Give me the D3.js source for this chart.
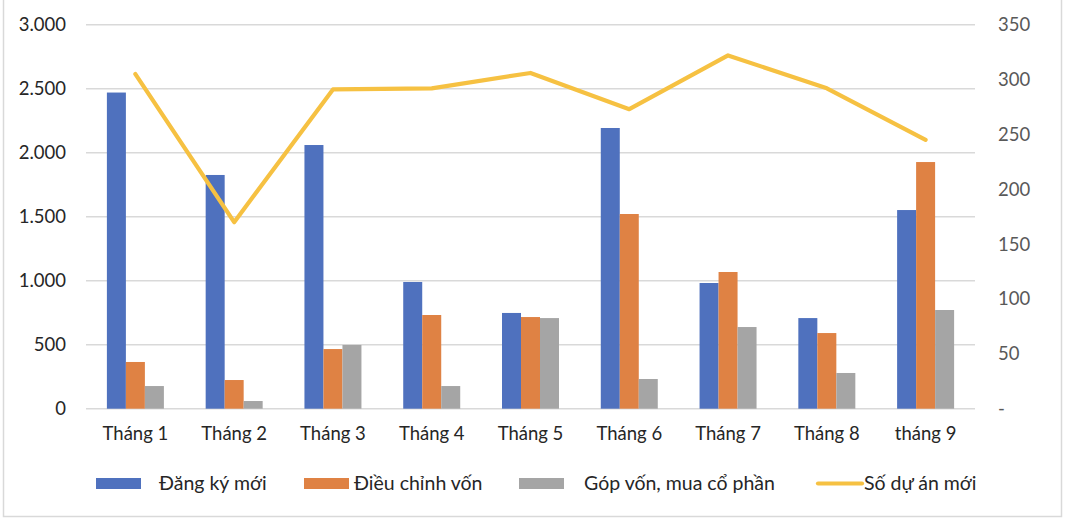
<!DOCTYPE html>
<html>
<head>
<meta charset="utf-8">
<script src="https://cdn.jsdelivr.net/npm/d3@7"></script>
<style>
  html, body { margin: 0; padding: 0; background: #fff; }
  svg { display: block; font-family: Lato, "Noto Sans", sans-serif; }
</style>
</head>
<body>
<svg id="chart" width="1069" height="524"></svg>
<script>
const categories = ["Tháng 1","Tháng 2","Tháng 3","Tháng 4","Tháng 5","Tháng 6","Tháng 7","Tháng 8","tháng 9"];
const seriesNames = ["Đăng ký mới","Điều chỉnh vốn","Góp vốn, mua cổ phần"];
const dangKyMoi   = [2470, 1826, 2060, 990, 748, 2193, 982, 708, 1552];
const dieuChinhVon = [365, 224, 466, 732, 716, 1521, 1068, 591, 1927];
const gopVon      = [177, 60, 498, 177, 708, 232, 638, 279, 771];
const lineName = "Số dự án mới";
const soDuAnMoi   = [305, 170, 291, 292, 306, 273, 322, 292, 245];
const leftTicks  = [0, 500, 1000, 1500, 2000, 2500, 3000];
const rightTicks = [0, 50, 100, 150, 200, 250, 300, 350];
const colors = ["#4F71BE", "#DF8244", "#A5A5A5"];
const lineColor = "#F6C142";

const svg = d3.select("#chart");
const L = 86, R = 975, T = 24.7, B = 408.7;

// outer frame
svg.append("rect").attr("x", 3.5).attr("y", -2).attr("width", 1058).attr("height", 518.5)
  .attr("fill", "none").attr("stroke", "#d9d9d9").attr("stroke-width", 1.5);

const x0 = d3.scaleBand().domain(categories).range([L, R]).paddingInner(0.423).paddingOuter(0.2115);
const x1 = d3.scaleBand().domain(seriesNames).range([0, x0.bandwidth()]);
const yL = d3.scaleLinear().domain([0, 3000]).range([B, T]);
const yR = d3.scaleLinear().domain([0, 350]).range([B, T]);

const fmt = v => d3.format(",")(v).replace(/,/g, ".");

// gridlines
svg.append("g").selectAll("line").data(leftTicks).join("line")
  .attr("x1", L).attr("x2", R)
  .attr("y1", d => yL(d)).attr("y2", d => yL(d))
  .attr("stroke", "#d9d9d9").attr("stroke-width", 1.5);

// left axis
const axL = svg.append("g").attr("transform", `translate(${L},0)`)
  .call(d3.axisLeft(yL).tickValues(leftTicks).tickFormat(fmt).tickSize(0).tickPadding(20));
axL.select(".domain").remove();
axL.selectAll("text").attr("font-size", "18.5px").attr("fill", "#262626").attr("font-family", "Lato");

// right axis
const axR = svg.append("g").attr("transform", `translate(${R},0)`)
  .call(d3.axisRight(yR).tickValues(rightTicks).tickFormat(d => d === 0 ? "-" : d).tickSize(0).tickPadding(23));
axR.select(".domain").remove();
axR.selectAll("text").attr("font-size", "18.5px").attr("fill", "#595959").attr("font-family", "Lato");

// x axis labels
const axX = svg.append("g").attr("transform", `translate(0,${B})`)
  .call(d3.axisBottom(x0).tickSize(0).tickPadding(18));
axX.select(".domain").remove();
axX.selectAll("text").attr("font-size", "18.5px").attr("fill", "#262626").attr("font-family", "Lato");

// bars
const seriesData = [dangKyMoi, dieuChinhVon, gopVon];
const rows = categories.map((c, i) => ({ c, vals: seriesNames.map((s, k) => ({ s, v: seriesData[k][i], k })) }));
svg.append("g").selectAll("g").data(rows).join("g")
  .attr("transform", d => `translate(${x0(d.c)},0)`)
  .selectAll("rect").data(d => d.vals).join("rect")
  .attr("x", d => x1(d.s)).attr("width", x1.bandwidth())
  .attr("y", d => yL(d.v)).attr("height", d => yL(0) - yL(d.v))
  .attr("fill", d => colors[d.k]);

// line
const line = d3.line().x((d, i) => x0(categories[i]) + x0.bandwidth() / 2).y(d => yR(d));
svg.append("path").datum(soDuAnMoi).attr("d", line)
  .attr("fill", "none").attr("stroke", lineColor).attr("stroke-width", 4.2)
  .attr("stroke-linejoin", "round").attr("stroke-linecap", "round");

// legend
const ly = 483.5;
const legendItems = [
  { name: seriesNames[0], color: colors[0], sx: 96, tx: 159, type: "rect" },
  { name: seriesNames[1], color: colors[1], sx: 304, tx: 354, type: "rect" },
  { name: seriesNames[2], color: colors[2], sx: 519, tx: 584, type: "rect" },
  { name: lineName, color: lineColor, sx: 816, tx: 864, type: "line" }
];
const lg = svg.append("g");
legendItems.forEach(it => {
  if (it.type === "rect") {
    lg.append("rect").attr("x", it.sx).attr("y", ly - 5.5).attr("width", 45).attr("height", 11).attr("fill", it.color);
  } else {
    lg.append("line").attr("x1", it.sx + 2).attr("x2", it.sx + 46).attr("y1", ly).attr("y2", ly)
      .attr("stroke", it.color).attr("stroke-width", 4.2).attr("stroke-linecap", "round");
  }
  lg.append("text").attr("x", it.tx).attr("y", ly).attr("dy", "0.35em")
    .attr("font-size", "19.5px").attr("fill", "#262626").text(it.name);
});
</script>
</body>
</html>
